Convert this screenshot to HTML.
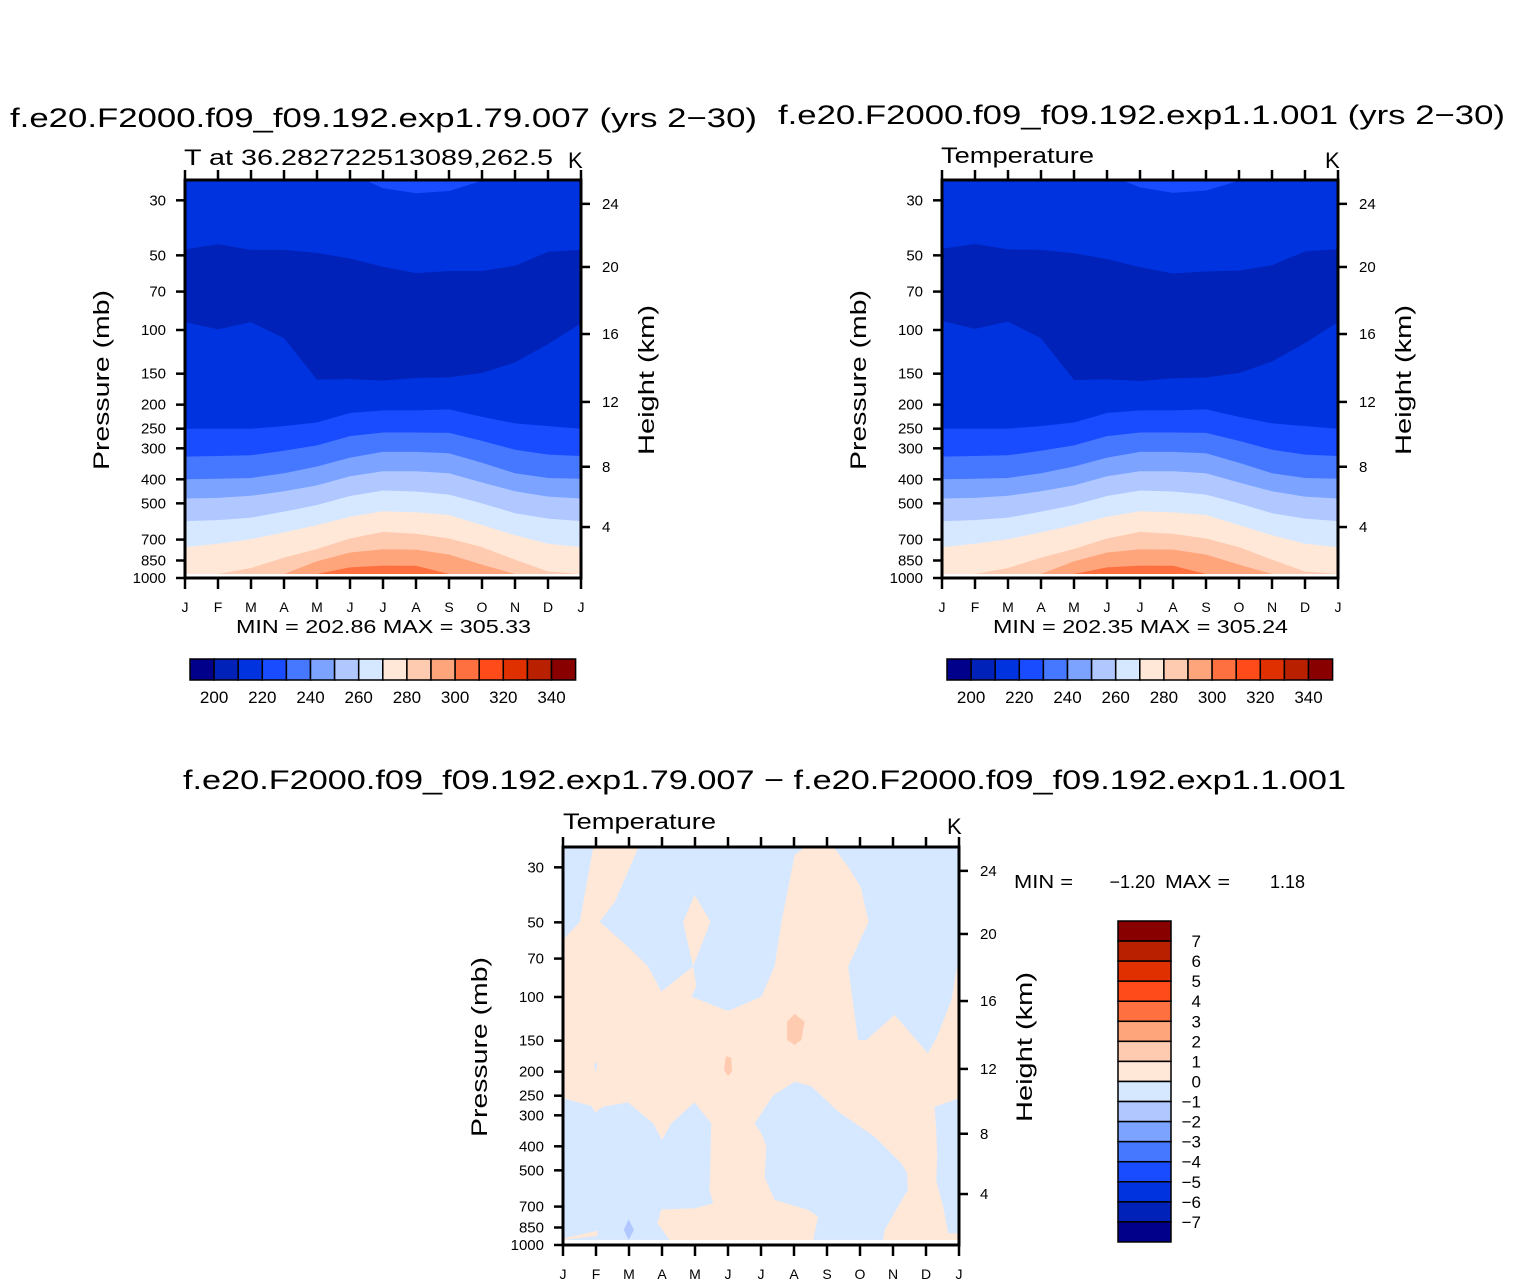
<!DOCTYPE html>
<html><head><meta charset="utf-8">
<style>
html,body{margin:0;padding:0;background:#fff;}
svg{display:block;font-family:"Liberation Sans",sans-serif;}
</style></head>
<body>
<svg id="root" width="1524" height="1284" viewBox="0 0 1524 1284" xmlns="http://www.w3.org/2000/svg">
<text x="10" y="127" font-size="27" textLength="747" lengthAdjust="spacingAndGlyphs">f.e20.F2000.f09_f09.192.exp1.79.007 (yrs 2−30)</text>
<text x="778" y="124" font-size="27" textLength="727" lengthAdjust="spacingAndGlyphs">f.e20.F2000.f09_f09.192.exp1.1.001 (yrs 2−30)</text>
<text x="184" y="165" font-size="22" textLength="369" lengthAdjust="spacingAndGlyphs">T at 36.282722513089,262.5</text>
<text x="568" y="168" font-size="22">K</text>
<text x="941" y="163" font-size="22" textLength="153" lengthAdjust="spacingAndGlyphs">Temperature</text>
<text x="1325" y="168" font-size="22">K</text>
<text x="236" y="633" font-size="18" textLength="295" lengthAdjust="spacingAndGlyphs">MIN = 202.86 MAX = 305.33</text>
<text x="993" y="633" font-size="18" textLength="295" lengthAdjust="spacingAndGlyphs">MIN = 202.35 MAX = 305.24</text>
<text x="183" y="789" font-size="27" textLength="1163" lengthAdjust="spacingAndGlyphs">f.e20.F2000.f09_f09.192.exp1.79.007 − f.e20.F2000.f09_f09.192.exp1.1.001</text>
<text x="563" y="829" font-size="22" textLength="153" lengthAdjust="spacingAndGlyphs">Temperature</text>
<text x="947" y="834" font-size="22">K</text>
<text x="1014" y="888" font-size="18" textLength="59" lengthAdjust="spacingAndGlyphs">MIN =</text>
<text x="1155" y="888" font-size="18" text-anchor="end">−1.20</text>
<text x="1165" y="888" font-size="18" textLength="65" lengthAdjust="spacingAndGlyphs">MAX =</text>
<text x="1305" y="888" font-size="18" text-anchor="end">1.18</text>
<g id="layer"></g>
</svg>
<script>
const NS="http://www.w3.org/2000/svg";
const root=document.getElementById('layer');
const months=["J","F","M","A","M","J","J","A","S","O","N","D","J"];
const pressureTicks=[30,50,70,100,150,200,250,300,400,500,700,850,1000];
const kmTicks=[24,20,16,12,8,4];
const kmPressure=[31,55.7,103.8,195,356,623];
const palette=["#00008a","#0022b8","#0033e0","#1a4cff","#4678ff","#7ba3ff","#b0c8ff","#d6e8ff","#ffe8d8","#ffcbb0","#ffa57c","#ff7040","#ff4a1a","#e03000","#b82000","#880000"];
const legendLabels=[200,220,240,260,280,300,320,340];
const diffLabels=[7,6,5,4,3,2,1,0,-1,-2,-3,-4,-5,-6,-7];
const dataBottom=963;
const bZ=[25,25,25,25,25,25,26.8,28.1,27.5,25,25,25,25];
const bY=[47.3,45.1,47.5,47.5,48.9,51.5,55.6,59.0,57.8,57.8,55.1,48.4,47.5];
const bX=[93,99.4,93,108,158.6,157.6,160,156,155.3,149,135,114,94];
const bA=[250,250,250,244,236,216,211,211,209,224,238,244,250];
const bB=[324,322,320,307,292,268,259,259,260,280,304,318,322];
const bC=[400,398,395,378,355,327,310,310,314,343,378,395,398];
const bD=[478,475,466,447,423,389,371,371,378,412,447,470,478];
const bE=[590,584,571,540,508,467,444,448,461,500,548,576,590];
const bF=[751,728,698,655,612,566,538,544,557,612,672,728,751];
const bG=[963,963,911,828,764,693,652,663,693,751,843,941,963];
const bH=[963,963,963,963,856,789,766,768,804,883,963,963,963];
const bI=[963,963,963,963,963,906,891,893,963,963,963,963,963];
const boundaries1=[bZ,bY,bX,bA,bB,bC,bD,bE,bF,bG,bH,bI];
const colorBelow=[2,1,2,3,4,5,6,7,8,9,10,11];
const topColor=3;
const boundaries2=[
 [25,25,25,25,25,25,26.6,28.0,27.4,25,25,25,25],
 [47.0,45.0,47.3,47.5,49.0,51.8,55.8,59.2,58.0,57.6,54.8,48.2,47.2],
 [92,99,92.5,108,159,158,160.5,156.5,155.5,149,134,113,93],
 bA.slice(),bB.slice(),bC.slice(),bD.slice(),bE.slice(),bF.slice(),bG.slice(),bH.slice(),bI.slice()];
const diffBlue1=[[0,25.2],[0.91,25.2],[0.51,49.7],[0,58.9]];
const diffBlue2=[[2.27,25.2],[1.57,41.3],[1.11,49.7],[1.97,62.7],[2.58,75.4],[2.98,95],[3.94,75.4],[4.04,90.5],[3.89,99.7],[5.0,114],[6.01,99.7],[6.41,75.4],[6.62,49.7],[7.02,26.8],[7.27,25.2]];
const diffPeachDiamond=[[3.64,49.7],[3.99,38.8],[4.47,49.7],[3.94,75.4]];
const diffBlue3=[[8.23,25.2],[8.64,29.8],[9.02,36],[9.26,49.7],[8.64,75.4],[8.94,149],[9.19,149],[10.05,118],[11.06,168.7],[11.36,142],[11.77,103],[12,68.8],[12,25.2]];
const diffBlue4=[[0,256],[0.86,275],[0.98,292],[1.21,277],[1.97,266],[2.73,323],[3.0,377],[3.28,323],[3.99,266],[4.49,323],[4.47,440],[4.44,600],[4.55,680],[3.99,712],[2.98,719],[2.86,818],[3.23,954],[0,954]];
const diffPeachStrip=[[0,940],[1.04,876],[1.04,920],[0,954]];
const diffBlueSliver=[[0.94,185],[1.04,185],[0.98,203]];
const diffBlue5=[[5.81,323],[6.36,250],[7.02,219.5],[7.53,229],[8.33,289],[9.44,366],[10.25,468],[10.43,514],[10.45,600],[10.15,700],[9.75,870],[9.70,954],[7.58,954],[7.73,768],[7.42,722],[6.41,658],[6.11,531],[6.16,400],[6.01,355]];
const diffBlue6=[[11.26,277],[12,256],[12,897],[11.67,897],[11.52,700],[11.31,550],[11.34,440],[11.31,345]];
const diffBlueDark=[[1.99,790],[2.15,868],[1.99,954],[1.84,868]];
const diffPink1=[[7.02,117],[7.32,125.7],[7.22,149],[7.02,156],[6.79,149],[6.79,125.7]];
const diffPink2=[[4.95,173],[5.1,176],[5.12,200],[5.0,208],[4.88,197],[4.92,178]];

function mk(tag,attrs,parent){const e=document.createElementNS(NS,tag);for(const k in attrs)e.setAttribute(k,attrs[k]);(parent||root).appendChild(e);return e;}

function axes(ox,oy){
 const W=396,H=398;
 const xs=m=>ox+m*W/12;
 const ys=p=>oy+H-248*Math.log10(1000/p);
 return {xs,ys,W,H};
}

function drawFrame(ox,oy,prefix,g){
 const {xs,ys,W,H}=axes(ox,oy);
 const yb=oy+H;
 for(let i=0;i<months.length;i++){
  const x=xs(i);
  const t=mk('line',{x1:x,y1:oy,x2:x,y2:oy-10,stroke:'#000','stroke-width':2.5},g);
  
  
  const b=mk('line',{x1:x,y1:yb,x2:x,y2:yb+11,stroke:'#000','stroke-width':2.5},g);
  
  
  const l=mk('text',{x:x,y:yb+34,'font-size':14,'text-anchor':'middle'},g);
  l.textContent=months[i];
  
  
 }
 pressureTicks.forEach(p=>{
  const y=ys(p);
  const t=mk('line',{x1:ox-9,y1:y,x2:ox,y2:y,stroke:'#000','stroke-width':2.5},g);
  
  
  const l=mk('text',{x:ox-19,y:y+5,'font-size':15,'text-anchor':'end'},g);
  l.textContent=p;
  
  
 });
 kmTicks.forEach((k,i)=>{
  const y=ys(kmPressure[i]);
  const t=mk('line',{x1:ox+W,y1:y,x2:ox+W+9,y2:y,stroke:'#000','stroke-width':2.5},g);
  
  
  const l=mk('text',{x:ox+W+21,y:y+5,'font-size':15},g);
  l.textContent=k;
  
  
 });
 const f=mk('rect',{x:ox,y:oy,width:W,height:H,fill:'none',stroke:'#000','stroke-width':3},g);
 
 
 const cy=oy+200;
 const pl=mk('text',{x:ox-76,y:cy,'font-size':22,'text-anchor':'middle',textLength:180,lengthAdjust:'spacingAndGlyphs',transform:`rotate(-90 ${ox-76} ${cy})`},g);
 pl.textContent='Pressure (mb)';
 
 
 const hl=mk('text',{x:ox+W+73,y:cy,'font-size':22,'text-anchor':'middle',textLength:150,lengthAdjust:'spacingAndGlyphs',transform:`rotate(-90 ${ox+W+73} ${cy})`},g);
 hl.textContent='Height (km)';
 
 
}

function drawMean(ox,oy,bounds,prefix){
 const g=mk('g',{});
 
 
 const {xs,ys,W}=axes(ox,oy);
 const bot=ys(dataBottom);
 const bg=mk('rect',{x:ox,y:oy,width:W,height:bot-oy,fill:palette[topColor]},g);
 
 
 bounds.forEach((b,i)=>{
  let pts;
  if(i===0){
   // top bump starts midway between Jun and Jul
   pts=xs(0)+','+ys(b[0]);
   for(let m=0;m<13;m++){
    if(m===6) pts+=' '+xs(5.5)+','+ys(b[0]);
    pts+=' '+xs(m)+','+ys(Math.min(b[m],dataBottom));
   }
  } else {
   pts=b.map((p,m)=>xs(m)+','+ys(Math.min(p,dataBottom))).join(' ');
  }
  pts+=' '+xs(12)+','+bot+' '+xs(0)+','+bot;
  const poly=mk('polygon',{points:pts,fill:palette[colorBelow[i]]},g);
  
  
 });
 drawFrame(ox,oy,prefix,g);
}

function drawHLegend(x0,y0,prefix){
 const g=mk('g',{});
 
 
 const bw=24.1;
 palette.forEach((c,i)=>{
  const r=mk('rect',{x:x0+i*bw,y:y0,width:bw,height:21,fill:c,stroke:'#000','stroke-width':1.5},g);
  
  
 });
 legendLabels.forEach(v=>{
  const i=(v-200)/10+1;
  const t=mk('text',{x:x0+i*bw,y:y0+44,'font-size':17,'text-anchor':'middle'},g);
  t.textContent=v;
  
  
 });
}

drawMean(185,180,boundaries1,'left');
drawMean(942,180,boundaries2,'right');
drawHLegend(190,659,'left');
drawHLegend(947,659,'right');

(function(){
 const ox=563,oy=847;
 const g=mk('g',{});
 
 
 const {xs,ys,W}=axes(ox,oy);
 const bot=ys(954);
 const bg=mk('rect',{x:ox,y:oy,width:W,height:bot-oy,fill:palette[8]},g);
 
 
 const shapes=[[diffBlue1,7],[diffBlue2,7],[diffPeachDiamond,8],[diffBlue3,7],[diffBlue4,7],[diffPeachStrip,8],[diffBlueSliver,7],[diffBlue5,7],[diffBlue6,7],[diffBlueDark,6],[diffPink1,9],[diffPink2,9]];
 shapes.forEach(([arr,ci])=>{
  const pts=arr.map(([m,p])=>xs(m)+','+ys(p)).join(' ');
  const poly=mk('polygon',{points:pts,fill:palette[ci]},g);
  
  
 });
 drawFrame(ox,oy,'difference',g);
 const lg=mk('g',{});
 
 
 for(let i=0;i<16;i++){
  const r=mk('rect',{x:1118,y:921+i*20.06,width:53,height:20.06,fill:palette[15-i],stroke:'#000','stroke-width':1.5},lg);
  
  
 }
 diffLabels.forEach((v,i)=>{
  const t=mk('text',{x:1201,y:921+(i+1)*20.06+6,'font-size':17,'text-anchor':'end'},lg);
  t.textContent=v<0?'−'+(-v):String(v);
  
  
 });
})();
</script>
</body></html>
